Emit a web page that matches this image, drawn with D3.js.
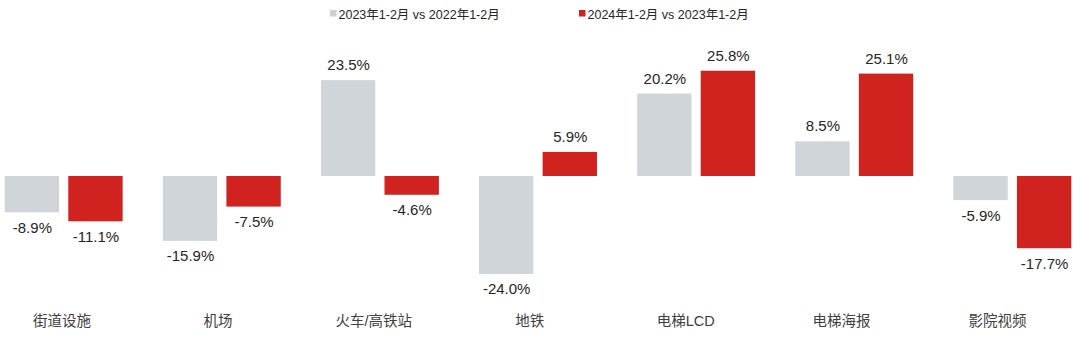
<!DOCTYPE html>
<html><head><meta charset="utf-8">
<script src="https://cdn.jsdelivr.net/npm/d3@7"></script>
<style>
html,body{margin:0;padding:0;background:#fff;}
svg text{font-family:"Liberation Sans",Arial,"Noto Sans CJK SC",sans-serif;}
</style></head>
<body><svg id="c" width="1080" height="338"></svg>
<script>
const categories = ["街道设施","机场","火车/高铁站","地铁","电梯LCD","电梯海报","影院视频"];
const seriesNames = ["2023年1-2月 vs 2022年1-2月","2024年1-2月 vs 2023年1-2月"];
const series2023 = [-8.9,-15.9,23.5,-24.0,20.2,8.5,-5.9];
const series2024 = [-11.1,-7.5,-4.6,5.9,25.8,25.1,-17.7];
const colors = ["#CFD5D8","#D0231F"];
const legendColors = ["#CFCFCF","#D0231F"];

const svg = d3.select("#c");
const x0 = d3.scaleBand().domain(categories).range([4.7,1071.3]).paddingInner(0.254).paddingOuter(0);
const x1 = d3.scaleBand().domain([0,1]).range([0,x0.bandwidth()]).paddingInner(0.145);
const y = d3.scaleLinear().domain([-30,30]).range([298.4,53.6]);
const xl = d3.scalePoint().domain(categories).range([61.5,997]);

const data = categories.map((c,i)=>({c, v:[series2023[i],series2024[i]]}));

const g = svg.selectAll("g.grp").data(data).enter().append("g")
  .attr("transform",d=>`translate(${x0(d.c)},0)`);
g.selectAll("rect").data(d=>d.v.map((v,k)=>({v,k}))).enter().append("rect")
  .attr("x",d=>x1(d.k)).attr("width",x1.bandwidth())
  .attr("y",d=>y(Math.max(0,d.v))).attr("height",d=>Math.abs(y(d.v)-y(0)))
  .attr("fill",d=>colors[d.k]);
g.selectAll("text").data(d=>d.v.map((v,k)=>({v,k}))).enter().append("text")
  .attr("x",d=>x1(d.k)+x1.bandwidth()/2+0.5)
  .attr("y",d=>d.v>=0 ? y(d.v)-10 : y(d.v)+20.5)
  .attr("text-anchor","middle").attr("font-size",15).attr("fill","#262626")
  .text(d=>d.v.toFixed(1)+"%");

// category axis labels
const xAxis = d3.axisBottom(xl).tickSize(0).tickPadding(0);
const ax = svg.append("g").attr("transform","translate(0,316)").call(xAxis);
ax.select(".domain").remove();
ax.selectAll("text").attr("font-size",14.5).attr("fill","#404040")
  .attr("font-family","'Noto Sans CJK SC','Liberation Sans',sans-serif");

// legend
const legX = [330,579];
seriesNames.forEach((n,i)=>{
  svg.append("rect").attr("x",legX[i]).attr("y",10).attr("width",6.5).attr("height",6.5).attr("fill",legendColors[i]);
  svg.append("text").attr("x",legX[i]+8.5).attr("y",18.5).attr("font-size",12.5).attr("fill","#262626").text(n);
});
</script></body></html>
